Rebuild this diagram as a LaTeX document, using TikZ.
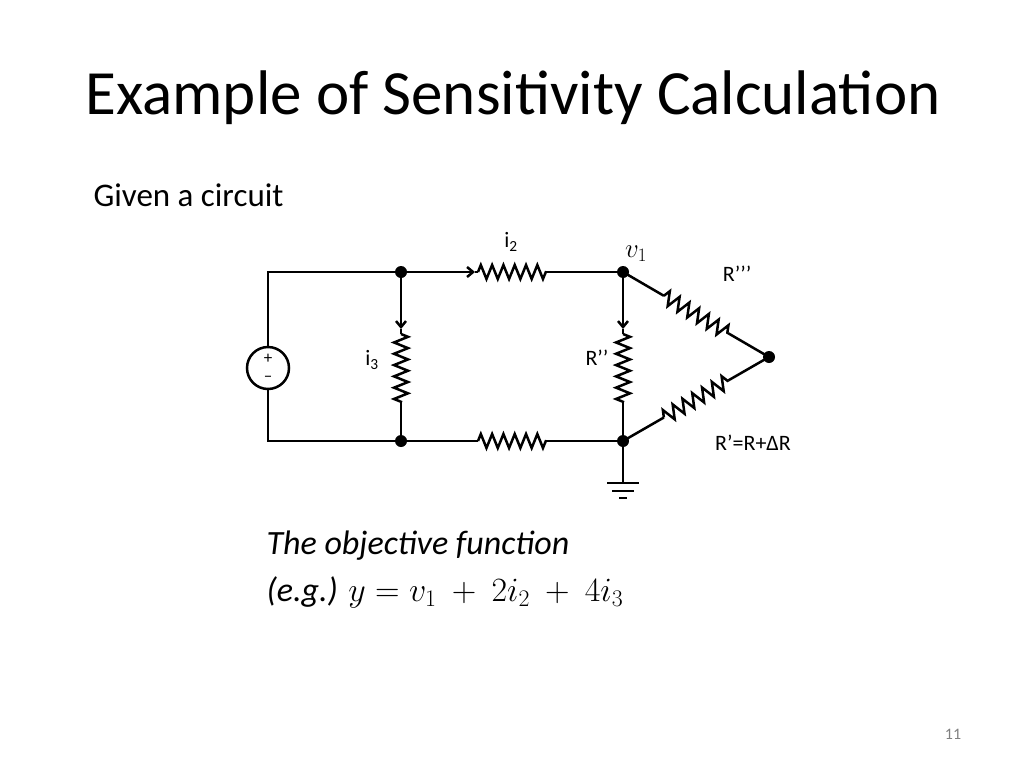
\documentclass[tikz,border=0pt]{standalone}
\usepackage{fix-cm}
\usepackage{fontspec}
\setmainfont{Carlito}
\usetikzlibrary{decorations.pathmorphing,arrows.meta,calc}
\tikzset{
  wire/.style={line width=2.5pt},
  res/.style={wire, decorate, decoration={zigzag, segment length=11.3pt, amplitude=7pt}},
  dot/.style={circle, fill, inner sep=0pt, minimum size=12pt},
  lbl/.style={font=\fontsize{22}{24}\selectfont}
}
\begin{document}
\begin{tikzpicture}[x=1pt,y=-1pt]
	\useasboundingbox (0,0) rectangle (1024,768);
	% texts
	\node[anchor=west, font=\fontsize{63}{66}\selectfont] (title) at (82,98) {Example of Sensitivity Calculation};
	\node[anchor=west, font=\fontsize{33}{36}\selectfont] (given) at (90,195) {Given a circuit};
	\node[anchor=west, font=\fontsize{34}{36}\selectfont\itshape] (obj) at (263,546) {The objective function};
	\node[anchor=west, font=\fontsize{34}{36}\selectfont] (eq) at (263,592) {\textit{(e.g.)} $y = v_1\ +\ 2i_2\ +\ 4i_3$};
	\node[font=\fontsize{16}{18}\selectfont, text=gray] (page) at (953,734) {11};
	% nodes
	\node[dot] (A) at (401,272) {};
	\node[dot] (B) at (401,441) {};
	\node[dot] (C) at (623,272) {};
	\node[dot] (D) at (623,441) {};
	\node[dot] (E) at (769,357) {};
	\node[circle, draw, line width=2.5pt, minimum size=42pt, inner sep=0pt] (src) at (268,368) {};
	\node[font=\fontsize{17}{17}\selectfont] at (268,359) {+};
	\node[font=\fontsize{17}{17}\selectfont] at (268,379) {--};
	% left loop
	\draw[wire] (src.north) |- (A.center);
	\draw[wire] (src.south) |- (B.center);
	% top branch
	\draw[wire, -{Straight Barb[length=6pt,width=10pt]}] (A.center) -- (475,272);
	\draw[wire] (475,272) -- (478,272);
	\draw[res] (478,272) -- (546,272);
	\draw[wire] (546,272) -- (C.center);
	% bottom branch
	\draw[wire] (B.center) -- (478,441);
	\draw[res] (478,441) -- (546,441);
	\draw[wire] (546,441) -- (D.center);
	% verticals
	\foreach \t/\b in {A/B, C/D} {
		\draw[wire, -{Straight Barb[length=6pt,width=10pt]}] (\t.center) -- ($(\t.center)+(0,57)$);
		\draw[wire] ($(\t.center)+(0,57)$) -- ($(\t.center)+(0,62)$);
		\draw[res] ($(\t.center)+(0,62)$) -- ($(\t.center)+(0,130)$);
		\draw[wire] ($(\t.center)+(0,130)$) -- (\b.center);
	}
	% diagonals
	\draw[wire] (C.center) -- ($(C.center)!0.28!(E.center)$);
	\draw[res] ($(C.center)!0.28!(E.center)$) -- ($(C.center)!0.72!(E.center)$);
	\draw[wire] ($(C.center)!0.72!(E.center)$) -- (E.center);
	\draw[wire] (D.center) -- ($(D.center)!0.28!(E.center)$);
	\draw[res] ($(D.center)!0.28!(E.center)$) -- ($(D.center)!0.72!(E.center)$);
	\draw[wire] ($(D.center)!0.72!(E.center)$) -- (E.center);
	% ground
	\draw[wire] (D.center) -- (623,483);
	\draw[wire] (607,483) -- (639,483);
	\draw[wire] (612,491) -- (634,491);
	\draw[wire] (619,498) -- (627,498);
	% labels
	\node[lbl] (li2) at (511,242) {i\textsubscript{2}};
	\node[font=\fontsize{27}{28}\selectfont] (lv1) at (636,254) {$v_1$};
	\node[lbl] (lr3) at (737,274) {R’’’};
	\node[lbl] (li3) at (372,360) {i\textsubscript{3}};
	\node[lbl] (lr2) at (597,358) {R’’};
	\node[lbl] (lr1) at (753,443) {R’=R+ΔR};
\end{tikzpicture}
\end{document}
